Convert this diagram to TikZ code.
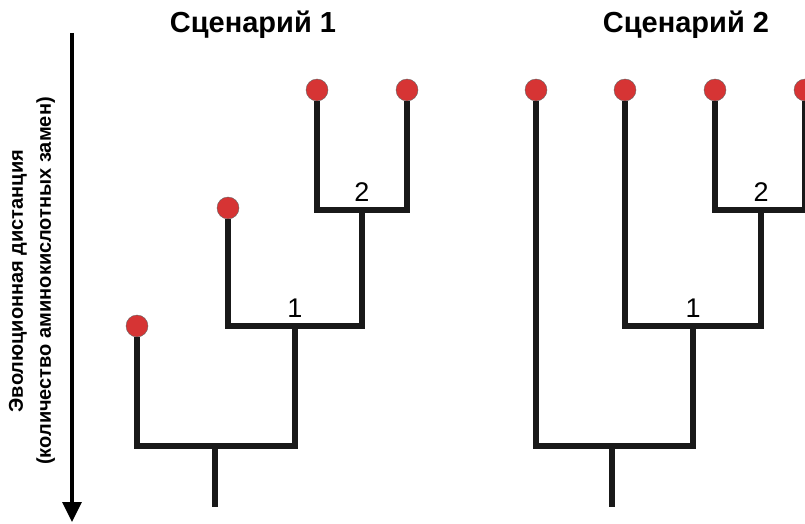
\documentclass[tikz,border=0pt]{standalone}
\usepackage{fontspec}
\setmainfont{Liberation Sans}
\usetikzlibrary{arrows.meta}
\definecolor{leafred}{HTML}{D63434}
\begin{document}
\begin{tikzpicture}
[x=1pt,y=-1pt,
leaf/.style={shape=circle,draw=black!60,fill=leafred,thin,
  minimum size=22pt,inner sep=0pt},
branch/.style={line width=5.4pt,draw=black!90},
title/.style={font=\bfseries\fontsize{29}{34}\selectfont},
num/.style={font=\fontsize{27}{30}\selectfont,above=5pt},
axis/.style={line width=3.4pt,-{Triangle[width=19pt,length=20pt]}}]

\useasboundingbox (0,0) rectangle (805,524);
\clip (0,0) rectangle (805,524);

% axis
\coordinate (ax1) at (72,33);
\coordinate (ax2) at (72,522);
\draw [axis] (ax1) -- (ax2);
\node (lab) [rotate=90,align=center,font=\bfseries\fontsize{20}{28}\selectfont]
  at (32,281) {Эволюционная дистанция\\(количество аминокислотных замен)};

% scenario 1
\node (t1) [title] at (253,25) {Сценарий 1};
\node (a1) [leaf] at (137,326) {};
\node (b1) [leaf] at (228,208) {};
\node (c1) [leaf] at (317,90) {};
\node (d1) [leaf] at (407,90) {};
\coordinate (n21) at (362,210);
\coordinate (n11) at (295,326);
\coordinate (r1) at (215,446);
\coordinate (s1) at (215,507);
\draw [branch] (c1.south) |- (n21) -| (d1.south);
\draw [branch] (b1.south) |- (n11) -| (n21);
\draw [branch] (a1.south) |- (r1) -| (n11);
\draw [branch] (r1) -- (s1);
\node [num] at (n21) {2};
\node [num] at (n11) {1};

% scenario 2
\node (t2) [title] at (686,25) {Сценарий 2};
\node (a2) [leaf] at (536,90) {};
\node (b2) [leaf] at (625,90) {};
\node (c2) [leaf] at (715,90) {};
\node (d2) [leaf] at (805,90) {};
\coordinate (n22) at (761,210);
\coordinate (n12) at (693,326);
\coordinate (r2) at (612,446);
\coordinate (s2) at (612,507);
\draw [branch] (c2.south) |- (n22) -| (d2.south);
\draw [branch] (b2.south) |- (n12) -| (n22);
\draw [branch] (a2.south) |- (r2) -| (n12);
\draw [branch] (r2) -- (s2);
\node [num] at (n22) {2};
\node [num] at (n12) {1};
\end{tikzpicture}
\end{document}
